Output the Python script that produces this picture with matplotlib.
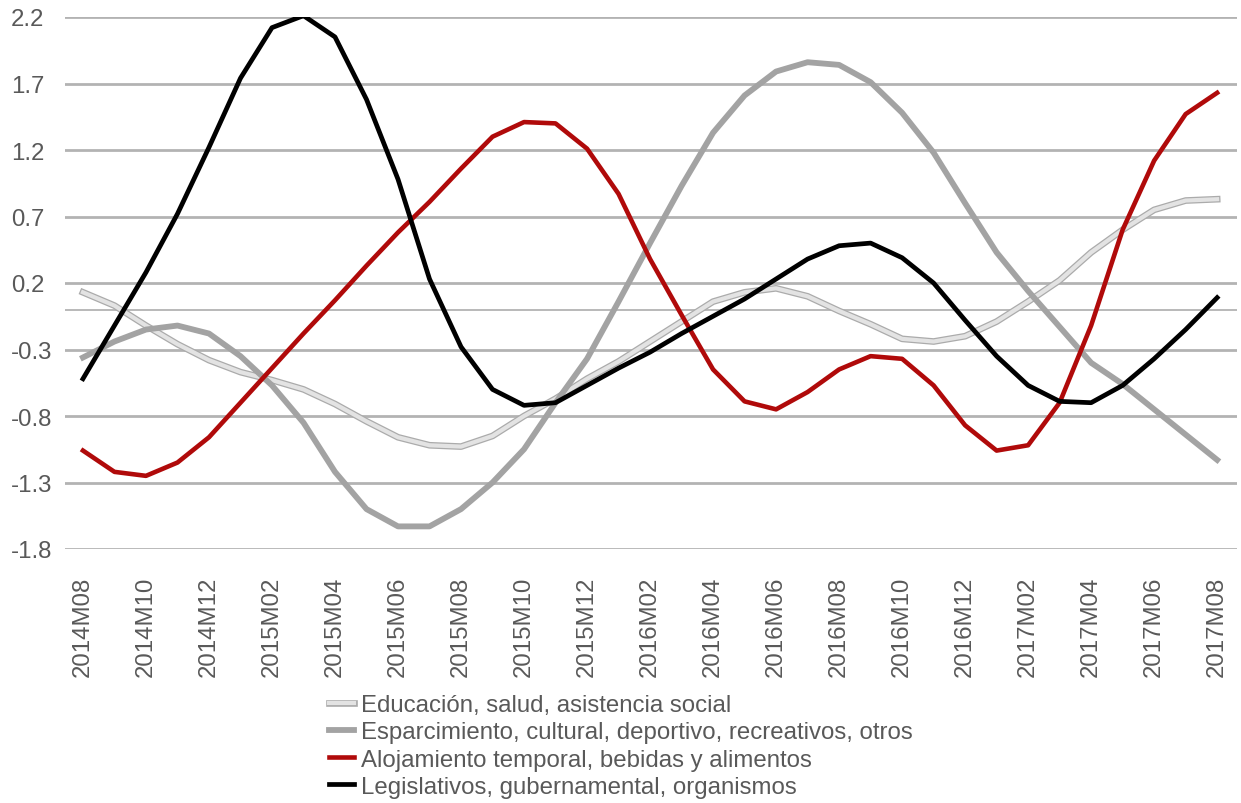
import matplotlib
matplotlib.use("Agg")
import matplotlib.pyplot as plt
import matplotlib.patheffects as pe

plt.rcParams['font.family'] = ['Liberation Sans', 'DejaVu Sans']

months = ["2014M08", "2014M09", "2014M10", "2014M11", "2014M12",
          "2015M01", "2015M02", "2015M03", "2015M04", "2015M05", "2015M06",
          "2015M07", "2015M08", "2015M09", "2015M10", "2015M11", "2015M12",
          "2016M01", "2016M02", "2016M03", "2016M04", "2016M05", "2016M06",
          "2016M07", "2016M08", "2016M09", "2016M10", "2016M11", "2016M12",
          "2017M01", "2017M02", "2017M03", "2017M04", "2017M05", "2017M06",
          "2017M07", "2017M08"]

educacion = [0.13, 0.03, -0.12, -0.26, -0.38, -0.47, -0.53, -0.60, -0.71, -0.84,
             -0.96, -1.02, -1.03, -0.95, -0.80, -0.67, -0.52, -0.39, -0.24, -0.09,
             0.06, 0.13, 0.16, 0.10, -0.01, -0.11, -0.22, -0.24, -0.20, -0.09,
             0.06, 0.22, 0.43, 0.60, 0.75, 0.82, 0.83]

esparcimiento = [-0.36, -0.24, -0.15, -0.12, -0.18, -0.35, -0.57, -0.85, -1.22, -1.50,
                 -1.63, -1.63, -1.50, -1.30, -1.05, -0.70, -0.37, 0.06, 0.50, 0.93,
                 1.33, 1.61, 1.79, 1.86, 1.84, 1.71, 1.48, 1.18, 0.80, 0.43,
                 0.14, -0.13, -0.40, -0.56, -0.75, -0.94, -1.13]

alojamiento = [-1.06, -1.22, -1.25, -1.15, -0.96, -0.70, -0.44, -0.18, 0.07, 0.33,
               0.58, 0.81, 1.06, 1.30, 1.41, 1.40, 1.21, 0.87, 0.38, -0.04,
               -0.45, -0.69, -0.75, -0.62, -0.45, -0.35, -0.37, -0.57, -0.87, -1.06,
               -1.02, -0.70, -0.12, 0.60, 1.12, 1.47, 1.63]

legislativos = [-0.52, -0.12, 0.28, 0.72, 1.22, 1.74, 2.12, 2.21, 2.05, 1.58,
                0.98, 0.23, -0.28, -0.60, -0.72, -0.70, -0.57, -0.44, -0.32, -0.18,
                -0.05, 0.08, 0.23, 0.38, 0.48, 0.50, 0.39, 0.20, -0.08, -0.35,
                -0.57, -0.69, -0.70, -0.57, -0.37, -0.15, 0.09]

labels = ["Educación, salud, asistencia social",
          "Esparcimiento, cultural, deportivo, recreativos, otros",
          "Alojamiento temporal, bebidas y alimentos",
          "Legislativos, gubernamental, organismos"]

yticks = [-1.8, -1.3, -0.8, -0.3, 0.2, 0.7, 1.2, 1.7, 2.2]

FS = 17.3

fig = plt.figure(figsize=(12.41, 8.04), dpi=100)
ax = fig.add_axes([65/1241, 1-550/804, (1237-65)/1241, (550-18)/804])

x = list(range(len(months)))
ax.set_xlim(-0.57, 36.63)
ax.set_ylim(-1.8, 2.2)

for yv in yticks:
    ax.axhline(yv, color='#b3b3b3', lw=2.0, zorder=1)
ax.axhline(0, color='#b3b3b3', lw=1.3, zorder=1)

ax.plot(x, educacion, color='#e3e3e3', lw=3.0, solid_joinstyle='round',
        path_effects=[pe.Stroke(linewidth=4.8, foreground='#ababab'), pe.Normal()],
        label=labels[0], zorder=3)
ax.plot(x, esparcimiento, color='#a3a3a3', lw=4.2, label=labels[1], zorder=4)
ax.plot(x, alojamiento, color='#b00a0a', lw=3.3, label=labels[2], zorder=5)
ax.plot(x, legislativos, color='#000000', lw=3.4, label=labels[3], zorder=6)

for s in ax.spines.values():
    s.set_visible(False)

ax.set_yticks(yticks)
ax.set_yticklabels([f"{v:.1f}" for v in yticks])
for t in ax.get_yticklabels():
    t.set_horizontalalignment('left')
ax.tick_params(axis='y', length=0, pad=39, labelsize=FS, labelcolor='#595959')

ax.set_xticks(x[::2])
ax.set_xticklabels(months[::2], rotation=90)
ax.tick_params(axis='x', length=0, pad=19, labelsize=FS, labelcolor='#595959')

leg = ax.legend(loc='upper left', bbox_to_anchor=(329/1241, 1-695/804),
                bbox_transform=fig.transFigure, frameon=False, fontsize=FS,
                handlelength=1.05, handletextpad=0.3, labelspacing=0.22,
                borderaxespad=0, borderpad=0)
for t in leg.get_texts():
    t.set_color('#595959')

fig.savefig("out.png", dpi=100)
